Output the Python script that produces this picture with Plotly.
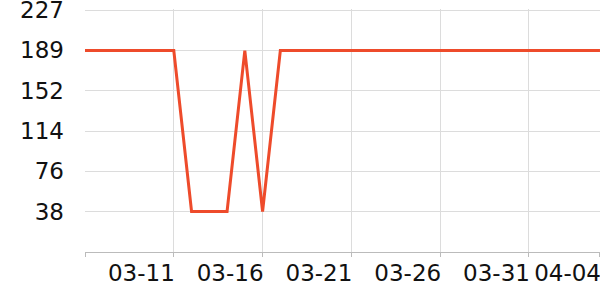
import plotly.graph_objects as go

dates = ["2024-03-06", "2024-03-07", "2024-03-08", "2024-03-09", "2024-03-10",
         "2024-03-11", "2024-03-12", "2024-03-13", "2024-03-14", "2024-03-15",
         "2024-03-16", "2024-03-17", "2024-03-18", "2024-03-19", "2024-03-20",
         "2024-03-21", "2024-03-22", "2024-03-23", "2024-03-24", "2024-03-25",
         "2024-03-26", "2024-03-27", "2024-03-28", "2024-03-29", "2024-03-30",
         "2024-03-31", "2024-04-01", "2024-04-02", "2024-04-03", "2024-04-04"]
values = [189, 189, 189, 189, 189, 189, 38, 38, 38, 189,
          38, 189, 189, 189, 189, 189, 189, 189, 189, 189,
          189, 189, 189, 189, 189, 189, 189, 189, 189, 189]

x_tick_vals = ["2024-03-06", "2024-03-11", "2024-03-16", "2024-03-21",
               "2024-03-26", "2024-03-31", "2024-04-04"]
x_tick_text = ["", "03-11", "03-16", "03-21", "03-26", "03-31", "04-04"]

y_max = 227
y_tick_vals = [y_max * k / 6 for k in range(1, 7)]
y_tick_text = ["38", "76", "114", "152", "189", "227"]

fig = go.Figure()
fig.add_trace(go.Scatter(x=dates, y=values, mode="lines",
                         line=dict(color="#ee4b2b", width=3),
                         hoverinfo="skip"))

fig.update_layout(
    width=600, height=300,
    margin=dict(l=85, r=0, t=9, b=48),
    paper_bgcolor="white", plot_bgcolor="white",
    showlegend=False,
    font=dict(family="DejaVu Sans", size=23, color="#111"),
)
fig.update_xaxes(
    type="date",
    range=["2024-03-06", "2024-04-04 00:02"],
    tickvals=x_tick_vals, ticktext=x_tick_text,
    ticklabelposition="outside left", ticklabeloverflow="allow",
    ticklabelshift=2,
    tickangle=0, automargin=False,
    showgrid=True, gridcolor="#dcdcdc", gridwidth=1,
    showline=True, linecolor="#bbbbbb", linewidth=1,
    ticks="outside", ticklen=4, tickcolor="#bbbbbb",
    zeroline=False,
)
fig.update_yaxes(
    range=[0, y_max + 1],
    tickvals=y_tick_vals, ticktext=y_tick_text,
    automargin=False, ticklabeloverflow="allow",
    showgrid=True, gridcolor="#dcdcdc", gridwidth=1,
    showline=False, zeroline=False,
    ticks="", ticklabelstandoff=20,
)

fig.write_html("out.html")
